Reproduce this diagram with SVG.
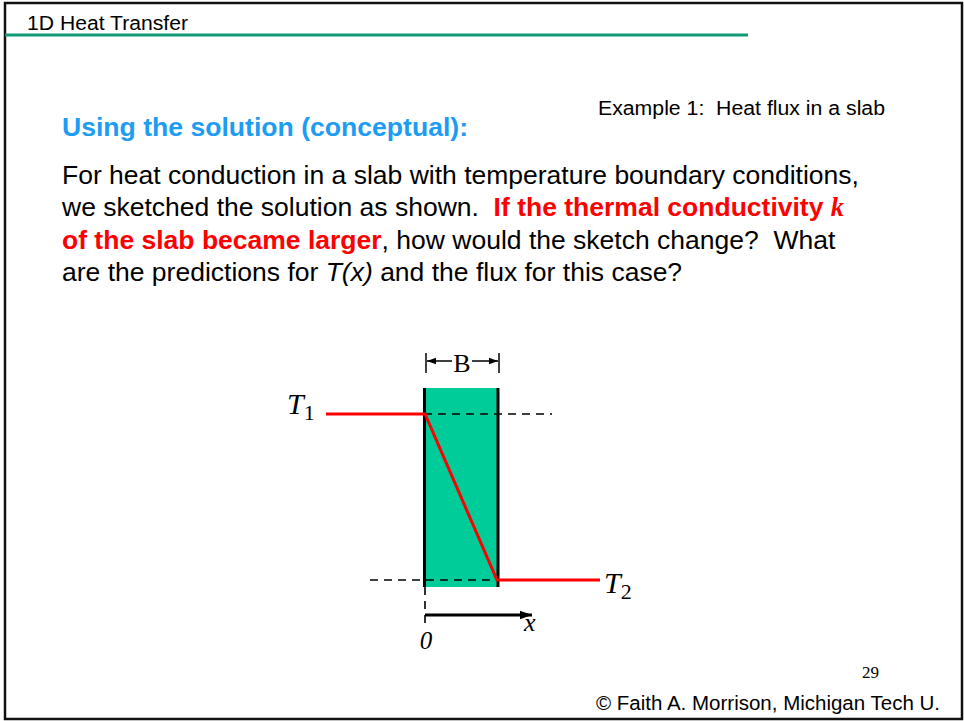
<svg xmlns="http://www.w3.org/2000/svg" width="964" height="721" viewBox="0 0 964 721">
<style>
.sans{font-family:"Liberation Sans",Arial,sans-serif}
.serif{font-family:"Liberation Serif","Times New Roman",serif}
.body{font-size:26.5px;fill:#000;white-space:pre}
.red{fill:#ff0000;font-weight:bold}
.dash{stroke:#000;stroke-width:1.6;stroke-dasharray:8 6;fill:none}
.wall{stroke:#000;stroke-width:3}
.dim{stroke:#000;stroke-width:1.5}
</style>
<defs>
<marker id="ah" viewBox="0 0 10 10" refX="10" refY="5" markerWidth="9" markerHeight="9" markerUnits="userSpaceOnUse" orient="auto"><path d="M0,1.5 L10,5 L0,8.5 Z" fill="#000"/></marker>
<marker id="ax" viewBox="0 0 10 10" refX="10" refY="5" markerWidth="14" markerHeight="12" markerUnits="userSpaceOnUse" orient="auto"><path d="M0,1.5 L10,5 L0,8.5 Z" fill="#000"/></marker>
</defs>
<rect width="964" height="721" fill="#fff"/>
<rect x="5" y="3" width="957" height="716" fill="none" stroke="#111" stroke-width="2.5"/>
<g id="header">
<text class="sans" x="27" y="30" font-size="19.5" textLength="161" lengthAdjust="spacingAndGlyphs">1D Heat Transfer</text>
<line x1="5" y1="35" x2="748" y2="35" stroke="#119a76" stroke-width="3"/>
</g>
<g id="title">
<text class="sans" x="62" y="136" font-size="26.5" font-weight="bold" fill="#1c9cf2" textLength="406" lengthAdjust="spacingAndGlyphs">Using the solution (conceptual):</text>
<text class="sans" x="598" y="115" font-size="20" textLength="287" lengthAdjust="spacingAndGlyphs" style="white-space:pre">Example 1:  Heat flux in a slab</text>
</g>
<g id="body" class="sans">
<text class="body" x="62" y="184">For heat conduction in a slab with temperature boundary conditions,</text>
<text class="body" x="62" y="216">we sketched the solution as shown.  <tspan class="red">If the thermal conductivity </tspan><tspan class="red serif" font-style="italic">k</tspan></text>
<text class="body" x="62" y="249"><tspan class="red">of the slab became larger</tspan>, how would the sketch change?  What</text>
<text class="body" x="62" y="281">are the predictions for <tspan font-style="italic">T(x)</tspan> and the flux for this case?</text>
</g>
<g id="slab">
<rect x="425" y="388" width="73" height="199" fill="#00cc99"/>
<line class="wall" x1="424.5" y1="388" x2="424.5" y2="587"/>
<line class="wall" x1="498" y1="388" x2="498" y2="587"/>
</g>
<g id="dimension">
<line class="dim" x1="426" y1="353" x2="426" y2="373"/>
<line class="dim" x1="499" y1="353" x2="499" y2="373"/>
<line class="dim" x1="452" y1="361" x2="427" y2="361" marker-end="url(#ah)"/>
<line class="dim" x1="472" y1="361" x2="498" y2="361" marker-end="url(#ah)"/>
<text class="serif" x="462" y="372" font-size="26" text-anchor="middle">B</text>
</g>
<g id="connectors">
<line class="dash" x1="326" y1="414" x2="552" y2="414"/>
<line class="dash" x1="370" y1="580" x2="600" y2="580"/>
<line class="dash" x1="425" y1="587" x2="425" y2="628"/>
<polyline points="326,414 425,414 497,580 600,580" fill="none" stroke="#ff0000" stroke-width="3" stroke-linejoin="miter"/>
<line x1="425" y1="615" x2="532" y2="615" stroke="#000" stroke-width="3" marker-end="url(#ax)"/>
</g>
<g id="labels" class="serif">
<text x="287" y="414" font-size="30" font-style="italic">T<tspan font-style="normal" font-size="22" dy="6">1</tspan></text>
<text x="604" y="593" font-size="30" font-style="italic">T<tspan font-style="normal" font-size="22" dy="6">2</tspan></text>
<text x="524" y="631" font-size="26" font-style="italic">x</text>
<text x="426" y="649" font-size="25" font-style="italic" text-anchor="middle">0</text>
</g>
<g id="footer">
<text class="serif" x="862" y="678" font-size="17">29</text>
<text class="sans" x="596" y="710" font-size="20" textLength="344" lengthAdjust="spacingAndGlyphs">© Faith A. Morrison, Michigan Tech U.</text>
</g>
</svg>
